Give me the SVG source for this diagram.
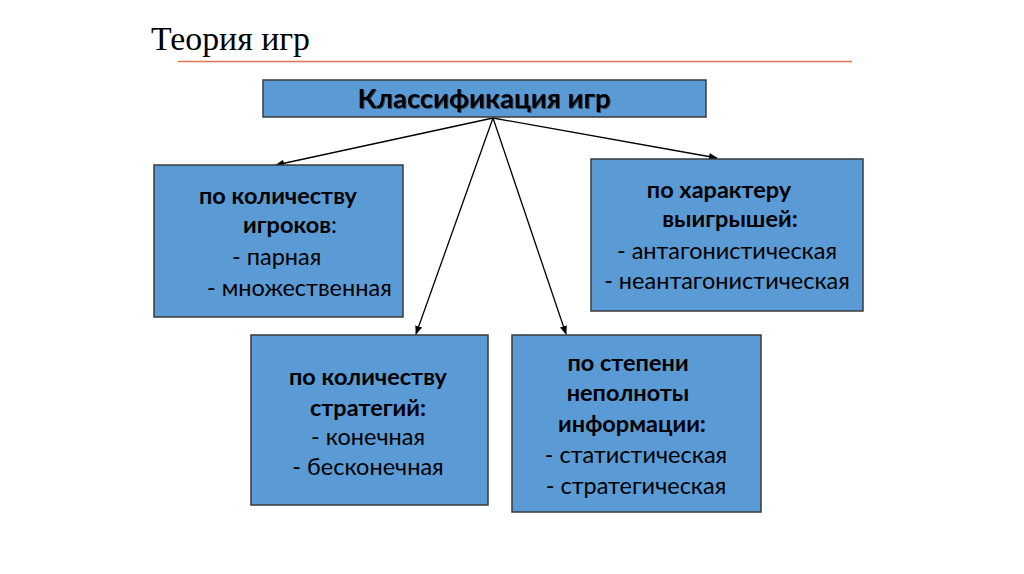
<svg xmlns="http://www.w3.org/2000/svg" width="1024" height="574" viewBox="0 0 1024 574">
<defs>
<style>
.box{fill:#5b9bd5;stroke:#3a3a3a;stroke-width:1.5}
.t{font-family:Lato,"Open Sans","Liberation Sans",sans-serif;font-size:23.5px;fill:#000;text-anchor:middle}
.b{font-weight:bold}
.c{stroke:#000;stroke-width:1.3;fill:none;marker-end:url(#ah)}
</style>
<marker id="ah" viewBox="0 0 10 10" refX="9" refY="5" markerWidth="9" markerHeight="9" markerUnits="userSpaceOnUse" orient="auto">
<path d="M0,1 L10,5 L0,9 Z" fill="#000"/>
</marker>
<filter id="sh" x="-10%" y="-30%" width="120%" height="160%">
<feDropShadow dx="1" dy="1" stdDeviation="0.6" flood-color="#000" flood-opacity="0.5"/>
</filter>
</defs>
<rect width="1024" height="574" fill="#fff"/>
<g id="title">
<text x="151" y="50" font-family="Liberation Serif,serif" font-size="34" textLength="159" lengthAdjust="spacingAndGlyphs">Теория игр</text>
<line x1="178" y1="61.5" x2="852" y2="61.5" stroke="#e8734d" stroke-width="1.3"/>
</g>
<g id="connectors">
<line class="c" x1="493" y1="118" x2="276" y2="165"/>
<line class="c" x1="493" y1="118" x2="717" y2="158"/>
<line class="c" x1="493" y1="118" x2="416" y2="334"/>
<line class="c" x1="493" y1="118" x2="566" y2="334"/>
</g>
<g id="root">
<rect class="box" x="263" y="80" width="443" height="37"/>
<text class="t b" x="484" y="108" style="font-size:27px" textLength="253" lengthAdjust="spacingAndGlyphs" filter="url(#sh)">Классификация игр</text>
</g>
<g id="players">
<rect class="box" x="154" y="165" width="249" height="152"/>
<text class="t b" x="278" y="204">по количеству</text>
<text class="t" x="290" y="233"><tspan class="b">игроков</tspan>:</text>
<text class="t" x="232" y="265" style="text-anchor:start">- парная</text>
<text class="t" x="207" y="296" style="text-anchor:start">- множественная</text>
</g>
<g id="payoffs">
<rect class="box" x="591" y="159" width="272" height="152"/>
<text class="t b" x="719" y="198">по характеру</text>
<text class="t b" x="730" y="227">выигрышей:</text>
<text class="t" x="727" y="259">- антагонистическая</text>
<text class="t" x="727" y="289">- неантагонистическая</text>
</g>
<g id="strategies">
<rect class="box" x="251" y="335" width="237" height="170"/>
<text class="t b" x="368" y="385">по количеству</text>
<text class="t b" x="368" y="416">стратегий:</text>
<text class="t" x="368" y="445">- конечная</text>
<text class="t" x="368" y="475">- бесконечная</text>
</g>
<g id="information">
<rect class="box" x="512" y="335" width="249" height="177"/>
<text class="t b" x="628" y="371">по степени</text>
<text class="t b" x="628" y="401">неполноты</text>
<text class="t b" x="632" y="432">информации:</text>
<text class="t" x="636" y="463">- статистическая</text>
<text class="t" x="636" y="494">- стратегическая</text>
</g>
</svg>
